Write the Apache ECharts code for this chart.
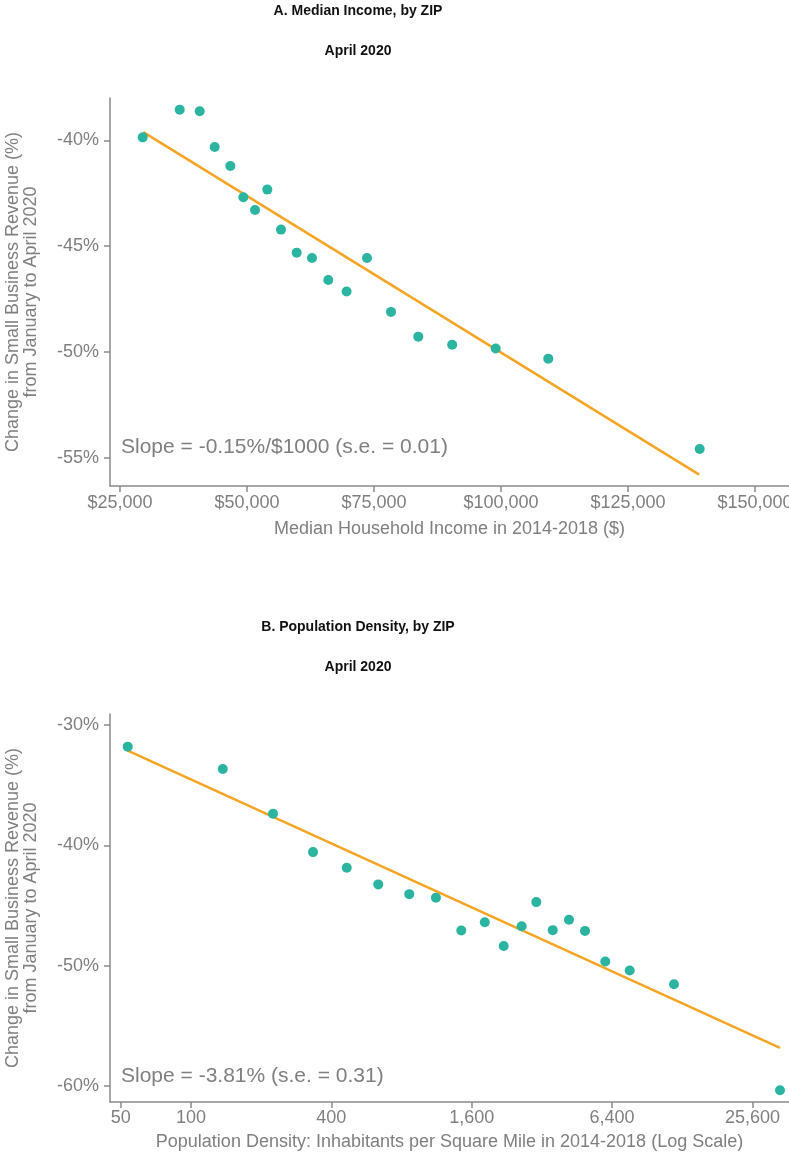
<!DOCTYPE html>
<html>
<head>
<meta charset="utf-8">
<script src="https://cdn.jsdelivr.net/npm/echarts@6/dist/echarts.min.js"></script>
<style>
html,body{margin:0;padding:0;background:#fff;}
#chart{width:789px;height:1159px;}
</style>
</head>
<body>
<div id="chart"></div>
<script>
// Panel A: median household income vs change in revenue
var incomeX = [29470, 36750, 40690, 43640, 46720, 49280, 51580, 54000, 56690, 59780, 62800, 66000, 69610, 73620, 78350, 83720, 90390, 98960, 109310, 139120];
var incomeY = [-39.86, -38.55, -38.63, -40.32, -41.21, -42.69, -43.29, -42.33, -44.22, -45.31, -45.56, -46.60, -47.15, -45.56, -48.11, -49.28, -49.66, -49.84, -50.32, -54.59];
var incomeFitX = [29590, 139020];
var incomeFitY = [-39.61, -55.80];
var incomeTicksX = [25000, 50000, 75000, 100000, 125000, 150000];
var incomeTicksY = [-55, -50, -45, -40];

// Panel B: population density (log scale) vs change in revenue
var densityX = [53.6, 137, 225, 334, 466, 636, 864, 1124, 1444, 1821, 2195, 2621, 3028, 3561, 4182, 4898, 5984, 7615, 11794, 33590];
var densityY = [-31.80, -33.66, -37.37, -40.56, -41.86, -43.24, -44.05, -44.34, -47.07, -46.39, -48.35, -46.71, -44.71, -47.04, -46.18, -47.10, -49.64, -50.39, -51.53, -60.34];
var densityFitX = [53.6, 33590];
var densityFitY = [-32.14, -56.82];
var densityTicksX = [50, 100, 400, 1600, 6400, 25600];
var densityTicksY = [-60, -50, -40, -30];

var TEAL = '#2bb5a0';
var ORANGE = '#f6a423';
var GREY = '#7f7f7f';
var AXIS = '#8a8a8a';
var FONT = '"Liberation Sans", Arial, sans-serif';

function pairs(xs, ys, f) {
  return xs.map(function (x, i) { return [f ? f(x) : x, ys[i]]; });
}
function log2(v) { return Math.log(v) / Math.LN2; }
function fmtNum(v) {
  return String(Math.round(v)).replace(/\B(?=(\d{3})+(?!\d))/g, ',');
}

function yAxisCfg(idx, min, max, ticks) {
  return {
    type: 'value', gridIndex: idx, min: min, max: max,
    splitLine: { show: false },
    axisLine: { show: true, lineStyle: { color: AXIS, width: 1.5 } },
    axisTick: { show: true, length: 6, customValues: ticks, lineStyle: { color: AXIS, width: 1.5 } },
    axisLabel: { customValues: ticks, color: GREY, fontSize: 18, fontFamily: FONT, margin: 11,
      formatter: function (v) { return Math.round(v) + '%'; } },
    name: 'Change in Small Business Revenue (%)\nfrom January to April 2020',
    nameLocation: 'middle', nameGap: 70, nameRotate: 90,
    nameTextStyle: { color: GREY, fontSize: 18, lineHeight: 18, fontFamily: FONT, align: 'center' }
  };
}

var chart = echarts.init(document.getElementById('chart'), null, { renderer: 'canvas' });

var option = {
  backgroundColor: '#ffffff',
  animation: false,
  grid: [
    { left: 110, right: 0, top: 98, height: 388, outerBoundsMode: 'none', containLabel: false },
    { left: 110, right: 0, top: 714, height: 388, outerBoundsMode: 'none', containLabel: false }
  ],
  xAxis: [
    {
      type: 'value', gridIndex: 0, min: 23030, max: 156700,
      splitLine: { show: false },
      axisLine: { show: true, lineStyle: { color: AXIS, width: 1.5 } },
      axisTick: { show: true, length: 6, customValues: incomeTicksX, lineStyle: { color: AXIS, width: 1.5 } },
      axisLabel: { customValues: incomeTicksX, color: GREY, fontSize: 18, fontFamily: FONT, margin: 8,
        formatter: function (v) { return '$' + fmtNum(v); } },
      name: 'Median Household Income in 2014-2018 ($)',
      nameLocation: 'middle', nameGap: 34,
      nameTextStyle: { color: GREY, fontSize: 18, lineHeight: 18, fontFamily: FONT }
    },
    {
      type: 'value', gridIndex: 1, min: 5.4915, max: 15.164,
      splitLine: { show: false },
      axisLine: { show: true, lineStyle: { color: AXIS, width: 1.5 } },
      axisTick: { show: true, length: 6, customValues: densityTicksX.map(log2), lineStyle: { color: AXIS, width: 1.5 } },
      axisLabel: { customValues: densityTicksX.map(log2), color: GREY, fontSize: 18, fontFamily: FONT, margin: 7,
        formatter: function (v) { return fmtNum(Math.pow(2, v)); } },
      name: 'Population Density: Inhabitants per Square Mile in 2014-2018 (Log Scale)',
      nameLocation: 'middle', nameGap: 31,
      nameTextStyle: { color: GREY, fontSize: 18, lineHeight: 18, fontFamily: FONT }
    }
  ],
  yAxis: [
    yAxisCfg(0, -56.34, -38.0, incomeTicksY),
    yAxisCfg(1, -61.31, -29.09, densityTicksY)
  ],
  series: [
    {
      type: 'line', xAxisIndex: 0, yAxisIndex: 0, data: pairs(incomeFitX, incomeFitY),
      showSymbol: false, symbol: 'none', lineStyle: { color: ORANGE, width: 2.5 }, z: 2, silent: true
    },
    {
      type: 'scatter', xAxisIndex: 0, yAxisIndex: 0, data: pairs(incomeX, incomeY),
      symbolSize: 10, itemStyle: { color: TEAL, opacity: 1 }, z: 3
    },
    {
      type: 'line', xAxisIndex: 1, yAxisIndex: 1, data: pairs(densityFitX, densityFitY, log2),
      showSymbol: false, symbol: 'none', lineStyle: { color: ORANGE, width: 2.5 }, z: 2, silent: true
    },
    {
      type: 'scatter', xAxisIndex: 1, yAxisIndex: 1, data: pairs(densityX, densityY, log2),
      symbolSize: 10, itemStyle: { color: TEAL, opacity: 1 }, z: 3
    }
  ],
  graphic: [
    { type: 'text', x: 358, y: 11.5, style: { text: 'A. Median Income, by ZIP', fill: '#111', font: 'bold 14px ' + FONT, align: 'center', verticalAlign: 'middle' } },
    { type: 'text', x: 358, y: 51.5, style: { text: 'April 2020', fill: '#111', font: 'bold 14px ' + FONT, align: 'center', verticalAlign: 'middle' } },
    { type: 'text', x: 358, y: 627, style: { text: 'B. Population Density, by ZIP', fill: '#111', font: 'bold 14px ' + FONT, align: 'center', verticalAlign: 'middle' } },
    { type: 'text', x: 358, y: 667, style: { text: 'April 2020', fill: '#111', font: 'bold 14px ' + FONT, align: 'center', verticalAlign: 'middle' } },
    { type: 'text', x: 121, y: 447, style: { text: 'Slope = -0.15%/$1000 (s.e. = 0.01)', fill: GREY, font: '21px ' + FONT, align: 'left', verticalAlign: 'middle' } },
    { type: 'text', x: 121, y: 1076, style: { text: 'Slope = -3.81% (s.e. = 0.31)', fill: GREY, font: '21px ' + FONT, align: 'left', verticalAlign: 'middle' } }
  ]
};

chart.setOption(option);
</script>
</body>
</html>
